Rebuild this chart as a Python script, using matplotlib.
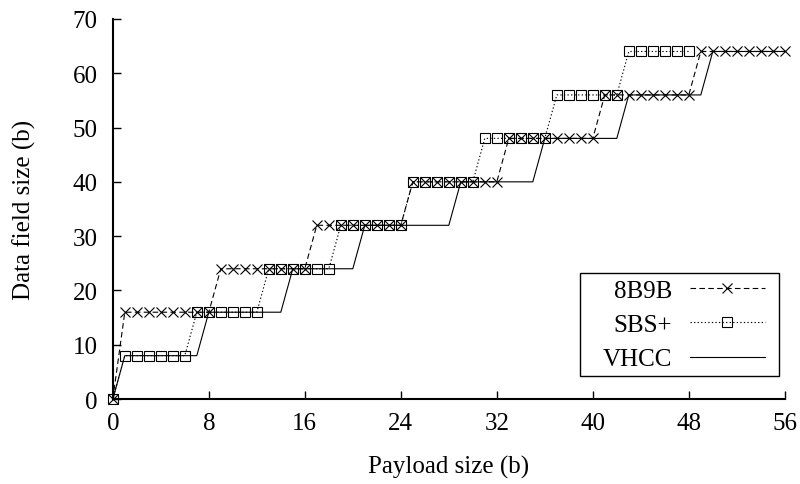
import matplotlib
matplotlib.use("Agg")
import matplotlib.pyplot as plt
from matplotlib.ticker import MultipleLocator
from matplotlib.patches import Rectangle

# Data (payload size in bits -> data field size in bits)
payload_8b9b = list(range(0, 57))
field_8b9b = [0] + [16]*8 + [24]*8 + [32]*8 + [40]*8 + [48]*8 + [56]*8 + [64]*8

payload_sbs = list(range(0, 49))
field_sbs = [0] + [8]*6 + [16]*6 + [24]*6 + [32]*6 + [40]*6 + [48]*6 + [56]*6 + [64]*6

payload_vhcc = list(range(0, 57))
field_vhcc = ([0] + [8]*7 + [16]*7 + [24]*6 + [32]*8 + [40]*7 + [48]*7
              + [56]*7 + [64]*7)

x_ticks = [0, 8, 16, 24, 32, 40, 48, 56]
y_ticks = [0, 10, 20, 30, 40, 50, 60, 70]

plt.rcParams['font.family'] = ['Liberation Serif', 'DejaVu Serif']
FS = 18

fig = plt.figure(figsize=(8, 4.85), dpi=100)
ax = fig.add_axes([0.141, 0.175, 0.84, 0.784])

ax.plot(payload_8b9b, field_8b9b, color='black', lw=0.8, ls=(0, (5, 3)),
        marker='x', ms=7, mew=0.8, label='8B9B', clip_on=False)
ax.plot(payload_sbs, field_sbs, color='black', lw=0.8, ls=(0, (1.2, 2)),
        marker='s', ms=7.5, mew=0.8, mfc='none', label='SBS+', clip_on=False)
ax.plot(payload_vhcc, field_vhcc, color='black', lw=0.8, ls='-',
        label='VHCC', clip_on=False)

ax.set_xlim(0, 56)
ax.set_ylim(0, 70)
ax.set_xticks(x_ticks)
ax.set_yticks(y_ticks)
ax.tick_params(direction='in', length=6, width=1, labelsize=FS)
ax.tick_params(axis='x', pad=9)
ax.tick_params(axis='y', pad=11)

for side in ('top', 'right'):
    ax.spines[side].set_visible(False)
for side in ('left', 'bottom'):
    ax.spines[side].set_linewidth(1.5)

ax.set_xlabel('Payload size (b)', fontsize=FS, labelpad=15)
ax.set_ylabel('Data field size (b)', fontsize=FS, labelpad=26)

# legend frame drawn separately (wider horizontal padding than vertical)
ax.add_patch(Rectangle((0.695, 0.0605), 0.296, 0.2715, transform=ax.transAxes,
                       facecolor='white', edgecolor='black', lw=1.0,
                       zorder=4, clip_on=False))
leg = ax.legend(loc='center', bbox_to_anchor=(0.85, 0.195),
                borderaxespad=0, markerfirst=False, frameon=False,
                fontsize=FS, handlelength=3.0, numpoints=1,
                labelspacing=0.47, borderpad=0, handletextpad=0.7)
leg.set_zorder(5)

fig.savefig('out.png', dpi=100)
